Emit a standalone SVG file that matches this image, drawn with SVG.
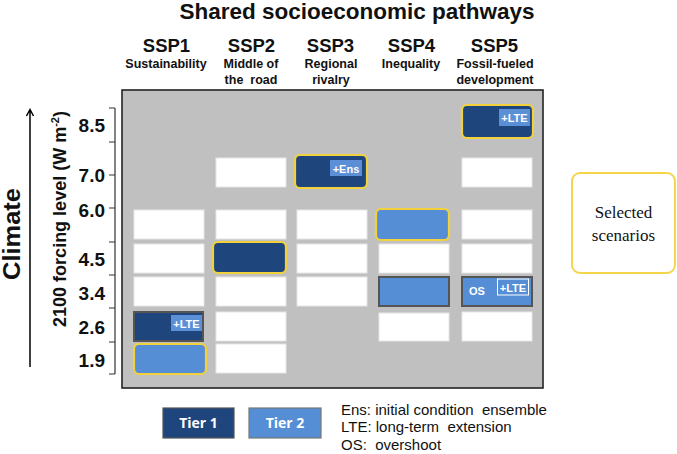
<svg xmlns="http://www.w3.org/2000/svg" width="677" height="454" viewBox="0 0 677 454">
<defs>
<style>
.b{font-family:"Liberation Sans",Arial,sans-serif;font-weight:bold;fill:#111}
.cell{fill:#fff;stroke:#e6e6e6;stroke-width:1}
.t1{fill:#1f457d}
.t2{fill:#558ed5}
.sel{stroke:#f2d13a;stroke-width:2.2}
.uns{stroke:#555;stroke-width:2}
.tag{fill:#5b8fd6}
.tt{font-family:"Liberation Sans",Arial,sans-serif;font-weight:bold;fill:#fff;font-size:11px}
.lg{font-family:"Liberation Sans",Arial,sans-serif;font-size:15px;fill:#111}
.ax{stroke:#333;stroke-width:1.2;fill:none}
.arr{stroke:#000;stroke-width:1.5;fill:none}
</style>
</defs>
<rect width="677" height="454" fill="#fff"/>
<text class="b" x="357" y="18.5" font-size="22.5" text-anchor="middle">Shared socioeconomic pathways</text>
<g class="b" font-size="18.5" text-anchor="middle">
<text x="166.5" y="52">SSP1</text>
<text x="251.5" y="52">SSP2</text>
<text x="330.5" y="52">SSP3</text>
<text x="411.5" y="52">SSP4</text>
<text x="494.5" y="52">SSP5</text>
</g>
<g class="b" font-size="12.5" text-anchor="middle">
<text x="166" y="68">Sustainability</text>
<text x="251" y="68">Middle of</text>
<text x="251" y="84" xml:space="preserve">the  road</text>
<text x="331" y="68">Regional</text>
<text x="331" y="84">rivalry</text>
<text x="411" y="68">Inequality</text>
<text x="495" y="68">Fossil-fueled</text>
<text x="495" y="84">development</text>
</g>
<text class="b" font-size="23" transform="translate(19.5,234) rotate(-90)" text-anchor="middle" textLength="92" lengthAdjust="spacingAndGlyphs">Climate</text>
<g id="connectors">
<path class="arr" d="M30,367 V110 M26.5,116 L30,109.5 L33.5,116"/>
</g>
<text class="b" font-size="18" transform="translate(66,219) rotate(-90)" text-anchor="middle">2100 forcing level (W m<tspan font-size="11" dy="-7">-2</tspan><tspan dy="7">)</tspan></text>
<g class="b" font-size="19" text-anchor="end">
<text x="105" y="132">8.5</text>
<text x="105" y="182">7.0</text>
<text x="105" y="217">6.0</text>
<text x="105" y="266">4.5</text>
<text x="105" y="300">3.4</text>
<text x="105" y="334">2.6</text>
<text x="105" y="367">1.9</text>
</g>
<path class="ax" d="M115,108V374 M109,108H115 M109,142H115 M109,175H115 M109,208H115 M109,242H115 M109,275H115 M109,308H115 M109,342H115 M109,374H115"/>
<rect x="122" y="90" width="421" height="298" fill="#c0c0c0" stroke="#222" stroke-width="1.6"/>
<g id="cells">
<rect class="cell" x="216" y="158" width="70" height="29"/>
<rect class="cell" x="462" y="158" width="70" height="29"/>
<rect class="cell" x="134" y="210" width="70" height="29"/>
<rect class="cell" x="216" y="210" width="70" height="29"/>
<rect class="cell" x="297" y="210" width="70" height="29"/>
<rect class="cell" x="462" y="210" width="70" height="29"/>
<rect class="cell" x="134" y="244" width="70" height="29"/>
<rect class="cell" x="297" y="244" width="70" height="29"/>
<rect class="cell" x="379" y="244" width="70" height="29"/>
<rect class="cell" x="462" y="244" width="70" height="29"/>
<rect class="cell" x="134" y="277" width="70" height="29"/>
<rect class="cell" x="216" y="277" width="70" height="29"/>
<rect class="cell" x="297" y="277" width="70" height="29"/>
<rect class="cell" x="216" y="312" width="70" height="29"/>
<rect class="cell" x="379" y="313" width="70" height="28"/>
<rect class="cell" x="462" y="312" width="70" height="29"/>
<rect class="cell" x="216" y="344" width="70" height="29"/>
</g>
<g id="ssp5-85">
<rect class="t1 sel" x="462" y="105" width="71" height="33" rx="5"/>
<rect class="tag" x="499" y="109" width="31" height="17"/>
<text class="tt" x="514.5" y="122" text-anchor="middle">+LTE</text>
</g>
<g id="ssp3-70">
<rect class="t1 sel" x="295" y="155" width="72" height="33" rx="5"/>
<rect class="tag" x="330" y="160" width="32" height="16"/>
<text class="tt" x="346" y="172.5" text-anchor="middle" font-size="12">+Ens</text>
</g>
<g id="ssp4-60">
<rect class="t2 sel" x="376" y="209" width="73" height="31" rx="5"/>
</g>
<g id="ssp2-45">
<rect class="t1 sel" x="213" y="242" width="73" height="31" rx="5"/>
</g>
<g id="ssp4-34">
<rect class="t2 uns" x="379" y="277" width="70" height="29"/>
</g>
<g id="ssp5-34">
<rect class="t2 uns" x="462" y="277" width="70" height="29"/>
<text class="tt" x="469" y="295">OS</text>
<rect x="497.5" y="279" width="31" height="16" fill="none" stroke="#fff" stroke-width="1"/>
<text class="tt" x="513" y="291.5" text-anchor="middle">+LTE</text>
</g>
<g id="ssp1-26">
<rect class="t1 uns" x="134" y="312" width="69" height="29"/>
<rect class="tag" x="171" y="315" width="31" height="16"/>
<text class="tt" x="186.5" y="327.5" text-anchor="middle">+LTE</text>
</g>
<g id="ssp1-19">
<rect class="t2 sel" x="134" y="344" width="72" height="30" rx="5"/>
</g>
<g id="legend-selected">
<rect x="572" y="173" width="103" height="100" rx="8" fill="#fff" stroke="#f5d54a" stroke-width="2"/>
<text x="623.5" y="218" font-family="'Liberation Serif','DejaVu Serif',serif" font-size="17" text-anchor="middle" fill="#111">Selected</text>
<text x="623.5" y="241" font-family="'Liberation Serif','DejaVu Serif',serif" font-size="17" text-anchor="middle" fill="#111">scenarios</text>
</g>
<g id="legend-tier1">
<rect x="163" y="408" width="71" height="30" fill="#1f457d" stroke="#555" stroke-width="1.2"/>
<text x="198.5" y="428" font-family="'Open Sans','Liberation Sans',sans-serif" font-weight="bold" font-size="14" fill="#fff" text-anchor="middle">Tier 1</text>
</g>
<g id="legend-tier2">
<rect x="249" y="408" width="72" height="30" fill="#558ed5" stroke="#777" stroke-width="1.2"/>
<text x="285" y="428" font-family="'Open Sans','Liberation Sans',sans-serif" font-weight="bold" font-size="14" fill="#fff" text-anchor="middle">Tier 2</text>
</g>
<g id="legend-notes" class="lg">
<text x="341" y="415" xml:space="preserve">Ens: initial condition  ensemble</text>
<text x="341" y="432" xml:space="preserve">LTE: long-term  extension</text>
<text x="341" y="450" xml:space="preserve">OS:  overshoot</text>
</g>
</svg>
